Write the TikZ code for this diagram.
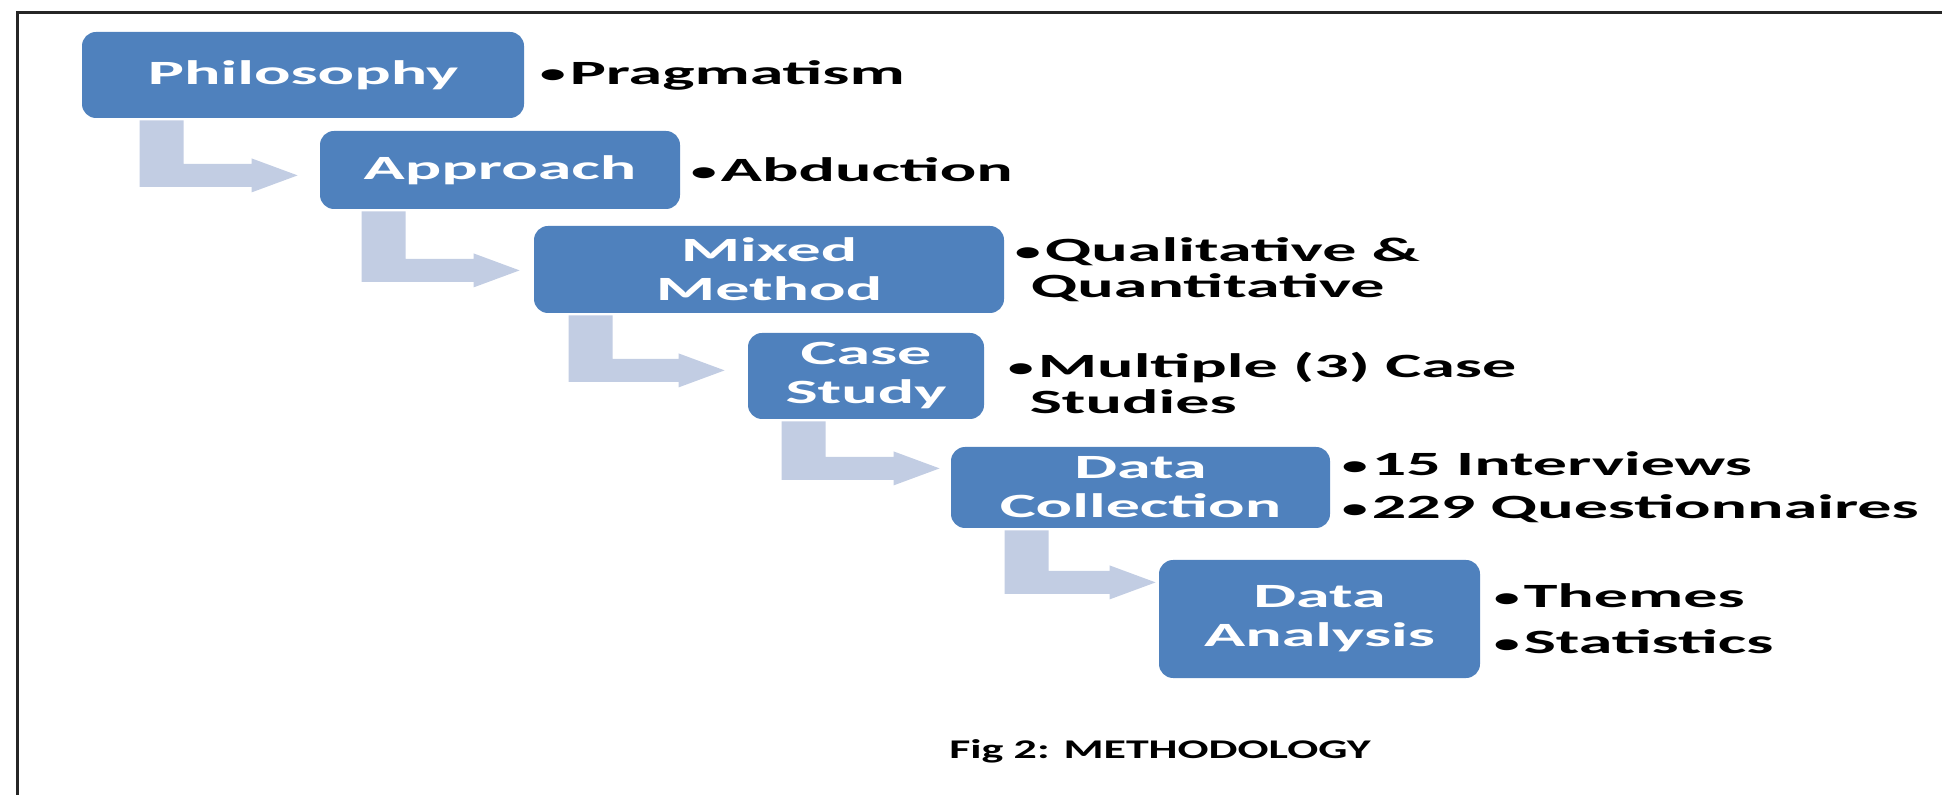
\documentclass[tikz,border=0pt]{standalone}
\usepackage{fontspec}
\setmainfont{Carlito}[FakeStretch=2.0]
\newfontfamily\capfont{Carlito}[FakeStretch=1.7]
\usepackage{tikz}
\usetikzlibrary{positioning,calc}

\definecolor{boxblue}{HTML}{4F81BD}
\definecolor{arrowblue}{HTML}{C2CDE3}
\newcommand{\bul}{\makebox[15pt][l]{\raisebox{0.6pt}{\fontsize{13}{13}\selectfont\textbullet}}}

\begin{document}
\begin{tikzpicture}[
  x=0.5pt, y=-0.5pt,
  stepbox/.style={fill=boxblue, rounded corners=7pt, text=white, align=center, inner sep=0pt,
    font=\fontsize{17}{19.5}\selectfont\bfseries},
  pointlist/.style={align=left, inner sep=0pt, font=\fontsize{17}{18}\selectfont\bfseries},
  flowarrow/.style={fill=arrowblue}
]
\useasboundingbox (0,0) rectangle (1942,795);

% Frame (only top and left edges are in view)
\draw[line width=1.5pt, black!85] (17,795) -- (17,13) -- (1942,13);

% Steps
\node[stepbox, minimum width=221pt, minimum height=43pt] (phil) at (303,75) {Philosophy};
\node[stepbox, minimum width=180pt, minimum height=39pt] (appr) at (500,170) {Approach};
\node[stepbox, minimum width=235pt, minimum height=43.5pt] (mixed) at (769,269.5) {Mixed\\Method};
\node[stepbox, minimum width=118pt, minimum height=43pt] (case) at (866,376) {Case\\Study};
\node[stepbox, minimum width=189.5pt, minimum height=40.5pt] (coll) at (1140.5,487.5) {Data\\Collection};
\node[stepbox, minimum width=160.5pt, minimum height=59pt] (anal) at (1319.5,619) {Data\\Analysis};

% Points beside each step
\node[pointlist, right=7.5pt of phil] (pragm) {\bul Pragmatism};
\node[pointlist, right=5pt of appr] (abduc) {\bul Abduction};
\node[pointlist, right=5pt of mixed] (quali) {\bul Qualitative \&\\\hspace*{8pt}Quantitative};
\node[pointlist, right=11.5pt of case, yshift=-3.5pt] (multi) {\bul Multiple (3) Case\\\hspace*{11pt}Studies};
\node[pointlist, right=5.5pt of coll] (inter) {\bul 15 Interviews\\[3.5pt]\bul 229 Questionnaires};
\node[pointlist, right=6.5pt of anal] (theme) {\bul Themes\\[5pt]\bul Statistics};

% Bent arrows: from/to/bar offset/drop/gap (px)
\foreach \src/\dst/\off/\drop/\gap in {phil/appr/58/57/22, appr/mixed/42/61/14,
    mixed/case/35/57/23, case/coll/34/49/11, coll/anal/54/54/3}
  \fill[flowarrow] let \p1=(\src.south west), \p2=(\dst.west),
      \p3=(\x1+\off*0.5pt, \y1-\drop*0.5pt), \p4=(\x2-\gap*0.5pt, \y3) in
    (\x3, \y1-1pt) -- (\x3+22pt, \y1-1pt) -- (\x3+22pt, \y3+5.75pt)
    -- (\x4-23pt, \y3+5.75pt) -- (\x4-23pt, \y3+8.5pt) -- (\x4, \y3)
    -- (\x4-23pt, \y3-8.5pt) -- (\x4-23pt, \y3-5.75pt) -- (\x3, \y3-5.75pt) -- cycle;

% Caption
\node[font=\capfont\fontsize{13.5}{16}\selectfont\bfseries, anchor=base] (caption) at (1160,758) {Fig 2: METHODOLOGY};
\end{tikzpicture}
\end{document}
